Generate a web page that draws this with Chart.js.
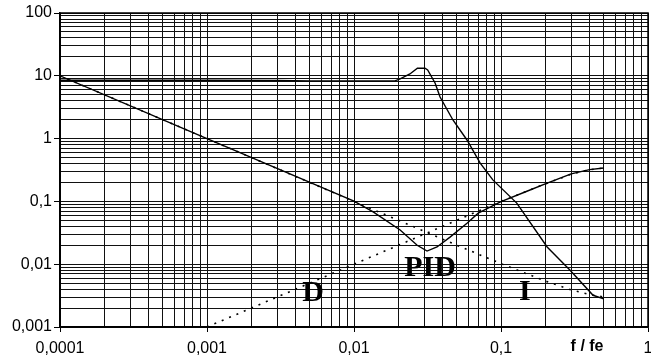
<!DOCTYPE html>
<html>
<head>
<meta charset="utf-8">
<script src="https://cdn.jsdelivr.net/npm/chart.js@4/dist/chart.umd.min.js"></script>
<style>
html,body{margin:0;padding:0;background:#fff;}
#wrap{width:651px;height:363px;position:relative;}
</style>
</head>
<body>
<div id="wrap"><canvas id="c" width="651" height="363"></canvas></div>
<script>
// ---- data ----
const xMajor = [0.0001, 0.001, 0.01, 0.1, 1];
const xTickLabels = ['0,0001', '0,001', '0,01', '0,1', '1'];
const yMajor = [0.001, 0.01, 0.1, 1, 10, 100];
const yTickLabels = ['0,001', '0,01', '0,1', '1', '10', '100'];

// top curve (solid)
const topFreq = [0.0001, 0.001, 0.003, 0.005, 0.01, 0.019, 0.0206, 0.024, 0.027, 0.0304, 0.0317, 0.0356, 0.0385, 0.0471, 0.0587, 0.072, 0.088, 0.128, 0.206, 0.294, 0.423, 0.5];
const topVals = [8.5, 8.5, 8.4, 8.3, 8.3, 8.3, 8.9, 10.7, 13.2, 13.2, 12.4, 7.7, 4.6, 1.98, 0.95, 0.41, 0.22, 0.094, 0.0188, 0.0081, 0.0032, 0.0028];

// PID (solid)
const pidFreq = [0.0001, 0.001, 0.01, 0.0135, 0.0206, 0.0269, 0.0314, 0.0367, 0.045, 0.0587, 0.07, 0.1, 0.15, 0.2, 0.3, 0.4, 0.5];
const pidVals = [10, 1, 0.101, 0.068, 0.035, 0.020, 0.0162, 0.0188, 0.027, 0.045, 0.065, 0.099, 0.145, 0.19, 0.275, 0.32, 0.34];

// I (dotted)
const iFreq = [0.0001, 0.001, 0.01, 0.05, 0.1, 0.2, 0.3, 0.4, 0.5];
const iVals = [10, 1, 0.1, 0.0201, 0.0102, 0.0054, 0.0039, 0.0033, 0.0030];

// D (dotted)
const dFreq = [0.001, 0.01, 0.03, 0.05, 0.1, 0.15, 0.2, 0.3, 0.4, 0.5];
const dVals = [0.001, 0.01, 0.030, 0.05, 0.1, 0.145, 0.19, 0.27, 0.32, 0.34];

// text labels inside the plot (data coordinates)
const curveLabels = [
  {text: 'D', x: 0.00526, y: 0.0035},
  {text: 'PID', x: 0.0329, y: 0.0087},
  {text: 'I', x: 0.1455, y: 0.0036}
];
const axisTitle = {text: 'f / fe', x: 0.385};

// ---- helpers ----
function pts(fx, fy) { return fx.map((f, i) => ({x: f, y: fy[i]})); }
function allTicks(majors) {
  const t = [];
  for (let k = 0; k < majors.length; k++) {
    t.push({value: majors[k]});
    if (k < majors.length - 1) {
      for (let m = 2; m <= 9; m++) t.push({value: majors[k] * m});
    }
  }
  return t;
}
function labelFor(v, majors, labels) {
  for (let k = 0; k < majors.length; k++) {
    if (Math.abs(v - majors[k]) / majors[k] < 1e-6) return labels[k];
  }
  return '';
}

const frame = {
  id: 'frame',
  afterDraw(chart) {
    const a = chart.chartArea, ctx = chart.ctx;
    ctx.save();
    ctx.strokeStyle = '#000';
    ctx.lineWidth = 1.5;
    ctx.strokeRect(a.left, a.top, a.right - a.left, a.bottom - a.top);
    // curve labels
    const xs = chart.scales.x, ys = chart.scales.y;
    ctx.fillStyle = '#000';
    ctx.textAlign = 'center';
    ctx.textBaseline = 'middle';
    ctx.font = 'bold 30px "Liberation Serif", "Times New Roman", serif';
    curveLabels.forEach(l => {
      ctx.fillText(l.text, xs.getPixelForValue(l.x), ys.getPixelForValue(l.y));
    });
    ctx.font = 'bold 16px "Liberation Sans", Arial, sans-serif';
    ctx.fillText(axisTitle.text, xs.getPixelForValue(axisTitle.x), a.bottom + 20);
    ctx.restore();
  }
};

const solid = {borderColor: '#000', borderWidth: 1.4, pointRadius: 0, tension: 0, fill: false};
const dotted = {borderColor: '#000', borderWidth: 1.6, borderDash: [2, 6], pointRadius: 0, tension: 0, fill: false};

new Chart(document.getElementById('c'), {
  type: 'line',
  data: {
    datasets: [
      Object.assign({label: 'top', data: pts(topFreq, topVals)}, solid),
      Object.assign({label: 'PID', data: pts(pidFreq, pidVals)}, solid),
      Object.assign({label: 'I', data: pts(iFreq, iVals)}, dotted),
      Object.assign({label: 'D', data: pts(dFreq, dVals)}, dotted)
    ]
  },
  options: {
    responsive: false,
    animation: false,
    layout: {padding: {top: 13, right: 3, left: 0, bottom: 0}},
    plugins: {legend: {display: false}, tooltip: {enabled: false}},
    scales: {
      x: {
        type: 'logarithmic',
        min: 0.0001, max: 1,
        afterBuildTicks(s) { s.ticks = allTicks(xMajor); },
        afterFit(s) { s.height = 36; s.paddingLeft = 0; s.paddingRight = 0; },
        ticks: {
          autoSkip: false, maxRotation: 0, padding: 7,
          color: '#000',
          font: {family: '"Liberation Sans", Arial, sans-serif', size: 16},
          callback(v) { return labelFor(v, xMajor, xTickLabels); }
        },
        grid: {
          color: '#111', lineWidth: 1, tickLength: 5,
          tickColor: (c) => (c.tick && labelFor(c.tick.value, xMajor, xTickLabels) !== '') ? '#000' : 'rgba(0,0,0,0)'
        },
        border: {color: '#000', width: 1.5}
      },
      y: {
        type: 'logarithmic',
        min: 0.001, max: 100,
        afterBuildTicks(s) { s.ticks = allTicks(yMajor); },
        afterFit(s) { s.width = 60; s.paddingTop = 0; s.paddingBottom = 0; },
        ticks: {
          autoSkip: false, padding: 2,
          color: '#000',
          font: {family: '"Liberation Sans", Arial, sans-serif', size: 16},
          callback(v) { return labelFor(v, yMajor, yTickLabels); }
        },
        grid: {
          color: '#111', lineWidth: 1, tickLength: 6,
          tickColor: (c) => (c.tick && labelFor(c.tick.value, yMajor, yTickLabels) !== '') ? '#000' : 'rgba(0,0,0,0)'
        },
        border: {color: '#000', width: 1.5}
      }
    }
  },
  plugins: [frame]
});
</script>
</body>
</html>
